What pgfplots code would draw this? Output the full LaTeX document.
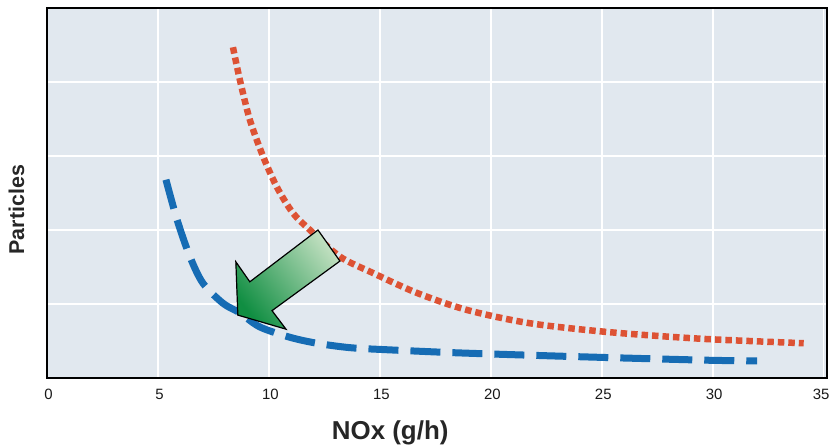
\documentclass[border=0pt]{standalone}
\usepackage{fontspec}
\setmainfont{Liberation Sans}
\usepackage{pgfplots}
\pgfplotsset{compat=1.18}
\usepackage{pgfplotstable}

\definecolor{bgpanel}{RGB}{225,232,239}
\definecolor{redline}{RGB}{221,82,52}
\definecolor{blueline}{RGB}{22,108,180}
\definecolor{arrowdark}{RGB}{16,142,66}
\definecolor{arrowlight}{RGB}{190,222,190}

% diesel particles vs NOx trade-off
\pgfplotstableread{
x y
8.38 4.47
8.69 4.03
9.14 3.49
9.73 3.00
10.36 2.58
11.08 2.23
11.85 2.00
13.20 1.64
14.68 1.42
16.67 1.15
18.92 0.92
21.76 0.74
25.32 0.62
29.50 0.53
34.10 0.47
}\before

\pgfplotstableread{
x y
5.36 2.68
5.86 2.14
6.44 1.64
7.03 1.28
7.93 1.01
8.69 0.88
9.59 0.69
10.95 0.55
12.16 0.47
13.65 0.41
15.45 0.38
18.50 0.34
22.60 0.30
26.00 0.27
29.80 0.24
32.00 0.23
}\after

\begin{document}
\begin{tikzpicture}
\useasboundingbox (-47bp,-69bp) rectangle (782bp,378bp);
\begin{axis}[
    scale only axis,
    width=780bp, height=370bp,
    xmin=0, xmax=35.15,
    ymin=0, ymax=5,
    xtick={0,5,...,35},
    xticklabels={0,5,10,15,20,25,30,{\hspace*{-8bp}35}},
    ytick={1,2,3,4},
    yticklabels={},
    major tick length=0pt,
    grid=major,
    major grid style={white, line width=1.6pt},
    axis background/.style={fill=bgpanel},
    axis line style={black, line width=1.8pt},
    tick label style={font=\fontsize{15}{17}\selectfont, text=black!90},
    xticklabel style={yshift=-8bp, xshift=1.5bp},
    xlabel={\textbf{NOx (g/h)}},
    xlabel style={font=\fontsize{26}{30}\selectfont, text=black!85,
        at={(axis description cs:0.44,-0.148)}, anchor=center},
    ylabel={\textbf{Particles}},
    ylabel style={font=\fontsize{21.5}{25}\selectfont, text=black!85,
        at={(axis description cs:-0.039,0.455)}, anchor=center, rotate=0},
    clip=false,
]
\addplot[redline, line width=6.5bp, dash pattern=on 6.5bp off 4bp,
    smooth, tension=0.5] table[x=x, y=y] {\before};
\addplot[blueline, line width=7bp, dash pattern=on 30bp off 12bp,
    smooth, tension=0.5] table[x=x, y=y] {\after};

\filldraw[draw=black, line width=1.2bp, top color=arrowlight,
    bottom color=arrowdark, shading angle=-52]
    (axis cs:12.21,2.00) -- (axis cs:13.20,1.58) -- (axis cs:10.14,0.91)
    -- (axis cs:10.77,0.66) -- (axis cs:8.60,0.85) -- (axis cs:8.51,1.57)
    -- (axis cs:9.14,1.30) -- cycle;
\end{axis}
\end{tikzpicture}
\end{document}
